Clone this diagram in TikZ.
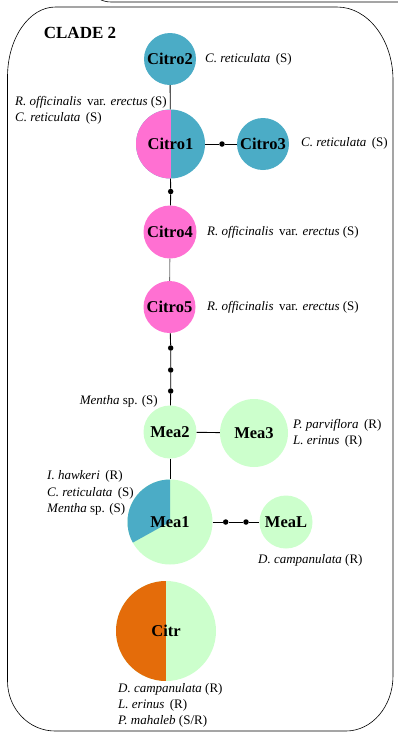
\documentclass[tikz,border=0pt]{standalone}
\usepackage{fontspec}
\setmainfont{Liberation Serif}
\definecolor{hapblue}{HTML}{4BACC6}
\definecolor{happink}{HTML}{FF70D2}
\definecolor{hapgreen}{HTML}{CCFFCC}
\definecolor{haporange}{HTML}{E46C0A}
\tikzset{
  hap/.style={circle,inner sep=0pt,minimum size=#1,
    font=\fontsize{16.5}{18}\selectfont\bfseries},
  dot/.style={circle,fill=black,inner sep=0pt,minimum size=5.5pt},
  host/.style={inner sep=0pt,align=left,
    font=\fontsize{13}{16.3}\selectfont},
  link/.style={line width=0.9pt}
}
\newcommand{\taxon}[1]{\textit{#1}}
\begin{document}
\begin{tikzpicture}[x=1pt,y=-1pt]
\useasboundingbox (0,0) rectangle (398,732);
% frame of the clade
\draw[line width=0.6pt] (7.5,77) arc[start angle=180,end angle=270,x radius=48,y radius=70]
  -- (337,7) arc[start angle=270,end angle=360,x radius=56,y radius=73]
  -- (393,676) arc[start angle=0,end angle=90,x radius=47,y radius=55]
  -- (55,731) arc[start angle=90,end angle=180,x radius=47.5,y radius=50] -- cycle;
\draw[line width=0.6pt] (101,0) .. controls (107,2) .. (116,2) -- (398,2); % neighbouring box
\node[font=\fontsize{17}{18}\selectfont\bfseries] (title) at (80,33) {CLADE 2};
% haplotypes
\node[hap=52pt,fill=hapblue] (citro2) at (170,59) {Citro2};
\node[hap=69pt,fill=hapblue,path picture={
  \fill[happink] (path picture bounding box.north west) rectangle (path picture bounding box.south);}]
  (citro1) at (170.5,144) {Citro1};
\node[hap=52pt,fill=hapblue] (citro3) at (263,144) {Citro3};
\node[hap=53pt,fill=happink] (citro4) at (170,232) {Citro4};
\node[hap=52pt,fill=happink] (citro5) at (169.5,307) {Citro5};
\node[hap=53pt,fill=hapgreen] (mea2) at (170,432) {Mea2};
\node[hap=68pt,fill=hapgreen] (mea3) at (254,433) {Mea3};
\node[hap=85pt,fill=hapgreen,path picture={
  \fill[hapblue] (path picture bounding box.center) -- ++(-90:50)
    arc[start angle=-90,end angle=-209,radius=50] -- cycle;}]
  (mea1) at (170,522) {Mea1};
\node[hap=53pt,fill=hapgreen] (meal) at (286,522) {MeaL};
\node[hap=100pt,fill=hapgreen,path picture={
  \fill[haporange] (path picture bounding box.north west) rectangle (path picture bounding box.south);}]
  (citr) at (166,631) {Citr};
% median vectors
\node[dot] (v1) at (222,144) {};
\node[dot] (v2) at (170.7,191.5) {};
\node[dot] (v3) at (170.7,348) {};
\node[dot] (v4) at (170.7,370) {};
\node[dot] (v5) at (170.7,391) {};
\node[dot] (v6) at (225.7,522) {};
\node[dot] (v7) at (246,522) {};
% connectors
\draw[link] (citro2) -- (citro1);
\draw[link] (citro1) -- (v1) -- (citro3);
\draw[link] (citro1.south) -- (v2) -- (citro4);
\draw[link,black!55] (citro4) -- (citro5);
\draw[link] (citro5) -- (v3) -- (v4) -- (v5) -- (mea2);
\draw[link] (mea2) -- (mea3);
\draw[link] (mea2) -- (mea1.north);
\draw[link] (mea1) -- (v6) -- (v7) -- (meal);
% host plants
\node[host,anchor=west] (h2) at (205,59) {\taxon{C. reticulata}\, (S)};
\node[host,anchor=west] (h1) at (15,110.5) {\taxon{R. officinalis}\, var. \taxon{erectus} (S)\\\taxon{C. reticulata}\, (S)};
\node[host,anchor=west] (h3) at (301,143) {\taxon{C. reticulata}\, (S)};
\node[host,anchor=west] (h4) at (207,232) {\taxon{R. officinalis}\, var. \taxon{erectus} (S)};
\node[host,anchor=west] (h5) at (207,307.5) {\taxon{R. officinalis}\, var. \taxon{erectus} (S)};
\node[host,anchor=east] (hm2) at (158,401.5) {\taxon{Mentha} sp. (S)};
\node[host,anchor=west] (hm3) at (293,433) {\taxon{P. parviflora}\, (R)\\\taxon{L. erinus}\, (R)};
\node[host,anchor=west] (hm1) at (47,493) {\taxon{I. hawkeri}\, (R)\\\taxon{C. reticulata}\, (S)\\\taxon{Mentha} sp. (S)};
\node[host,anchor=west] (hml) at (258,560) {\taxon{D. campanulata} (R)};
\node[host,anchor=west] (hc) at (118,705.5) {\taxon{D. campanulata} (R)\\\taxon{L. erinus}\, (R)\\\taxon{P. mahaleb} (S/R)};
\end{tikzpicture}
\end{document}
